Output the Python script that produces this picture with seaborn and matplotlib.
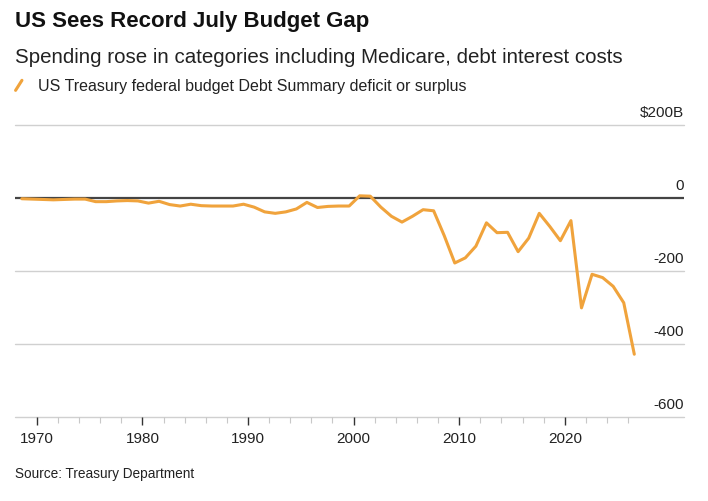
import pandas as pd
import numpy as np
import matplotlib
matplotlib.use("Agg")
import matplotlib.pyplot as plt
from matplotlib.lines import Line2D
import seaborn as sns

### July deficit (-) or surplus (+), billions of dollars
years = list(range(1968, 2027))
deficit = [-2, -3, -4, -5, -4, -3, -3, -10, -10, -8,
           -7, -8, -14, -9, -18, -22, -17, -21, -22, -22,
           -22, -17, -25, -38, -42, -38, -30, -12, -26, -23,
           -22, -22, 6, 5, -25, -50, -66, -50, -32, -35,
           -103, -178, -164, -132, -68, -95, -94, -147, -110, -42,
           -78, -117, -62, -301, -209, -218, -242, -287, -428]

y_ticks = [200, 0, -200, -400, -600]
y_labels = ["$200B", "0", "-200", "-400", "-600"]
x_major = [1970, 1980, 1990, 2000, 2010, 2020]

df = pd.DataFrame({"date": pd.to_datetime([f"{y}-07-31" for y in years]),
                   "deficit": deficit})

sns.set_theme(style="white")
plt.rcParams['font.family'] = ['Liberation Sans', 'DejaVu Sans']

orange = '#F0A33C'

fig = plt.figure(figsize=(7.08, 5.02), dpi=100)
ax = fig.add_axes([0.0212, 0.1673, 0.9449, 0.5817])

sns.lineplot(data=df, x="date", y="deficit", ax=ax, color=orange, linewidth=2.2, zorder=3)

ax.set_ylim(-600, 200)
ax.set_xlim(pd.Timestamp("1967-12-10"), pd.Timestamp("2031-04-15"))

### gridlines
for v, lab in zip(y_ticks, y_labels):
    if v == 0:
        ax.axhline(v, color='#444444', lw=1.6, zorder=2)
    else:
        ax.axhline(v, color='#d0d0d0', lw=1, zorder=0, clip_on=False)
    ax.annotate(lab, xy=(1.0, v), xycoords=('axes fraction', 'data'),
                xytext=(0, 4), textcoords='offset points', ha='right', va='bottom',
                fontsize=11, color='#222222')

ax.set_yticks([])
for s in ['top', 'right', 'left', 'bottom']:
    ax.spines[s].set_visible(False)

ax.set_xticks([pd.Timestamp(f"{y}-01-01") for y in x_major])
ax.set_xticklabels([str(y) for y in x_major])
ax.set_xticks([pd.Timestamp(f"{y}-01-01") for y in range(1970, 2027, 2) if y % 10], minor=True)
ax.tick_params(axis='x', which='major', length=6, width=1, color='#333333',
               labelsize=11, labelcolor='#222222', pad=4, bottom=True)
ax.tick_params(axis='x', which='minor', length=4, width=0.8, color='#c8c8c8', bottom=True)
ax.set_xlabel("")
ax.set_ylabel("")

### titles
fig.text(0.0212, 0.958, "US Sees Record July Budget Gap", fontsize=16, fontweight='bold',
         color='#111111', va='center', ha='left')
fig.text(0.0212, 0.885, "Spending rose in categories including Medicare, debt interest costs",
         fontsize=14.8, color='#222222', va='center', ha='left')
fig.add_artist(Line2D([0.022, 0.031], [0.818, 0.838], color=orange, lw=2.2,
                      transform=fig.transFigure))
fig.text(0.053, 0.828, "US Treasury federal budget Debt Summary deficit or surplus",
         fontsize=11.5, color='#222222', va='center', ha='left')
fig.text(0.0212, 0.055, "Source: Treasury Department", fontsize=9.8, color='#222222',
         va='center', ha='left')

fig.savefig("out.png", dpi=100)
